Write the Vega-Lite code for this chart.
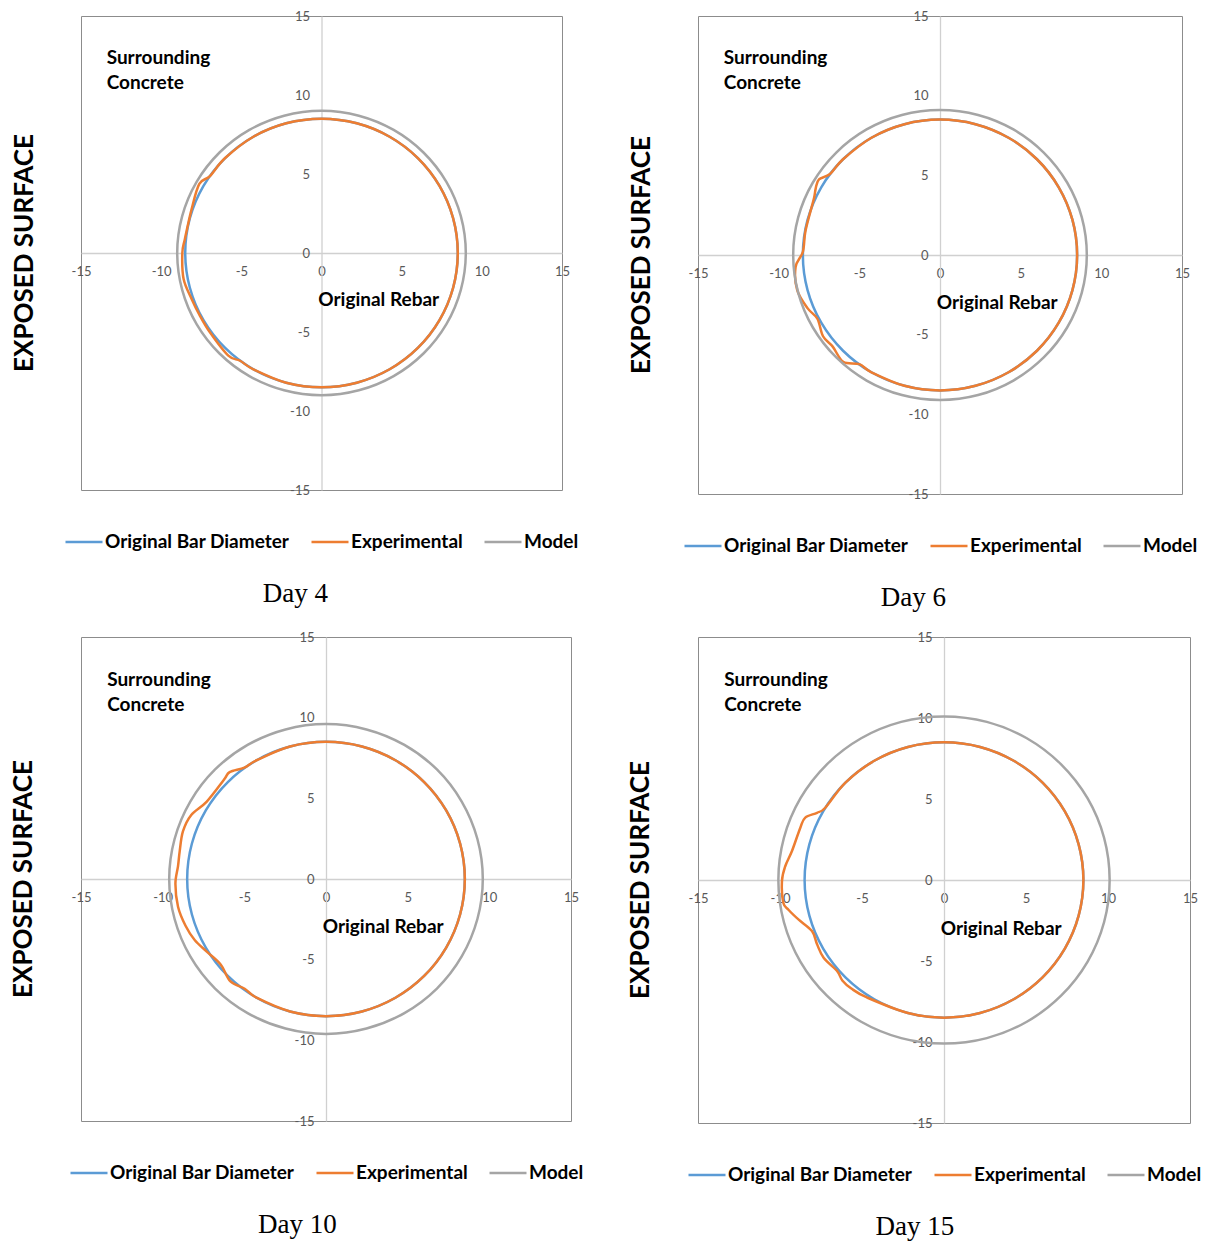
{
"$schema": "https://vega.github.io/schema/vega-lite/v6.json",
"padding": {"left": 10, "top": 9, "right": 3, "bottom": 0},
"datasets": {
"bar": [{"i":0,"x":8.5,"y":0},{"i":1,"x":8.21,"y":2.2},{"i":2,"x":7.36,"y":4.25},{"i":3,"x":6.01,"y":6.01},{"i":4,"x":4.25,"y":7.36},{"i":5,"x":2.2,"y":8.21},{"i":6,"x":0,"y":8.5},{"i":7,"x":-2.2,"y":8.21},{"i":8,"x":-4.25,"y":7.36},{"i":9,"x":-6.01,"y":6.01},{"i":10,"x":-7.36,"y":4.25},{"i":11,"x":-8.21,"y":2.2},{"i":12,"x":-8.5,"y":0},{"i":13,"x":-8.21,"y":-2.2},{"i":14,"x":-7.36,"y":-4.25},{"i":15,"x":-6.01,"y":-6.01},{"i":16,"x":-4.25,"y":-7.36},{"i":17,"x":-2.2,"y":-8.21},{"i":18,"x":0,"y":-8.5},{"i":19,"x":2.2,"y":-8.21},{"i":20,"x":4.25,"y":-7.36},{"i":21,"x":6.01,"y":-6.01},{"i":22,"x":7.36,"y":-4.25},{"i":23,"x":8.21,"y":-2.2}],
"m4": [{"i":0,"x":9,"y":0},{"i":1,"x":8.69,"y":2.33},{"i":2,"x":7.79,"y":4.5},{"i":3,"x":6.36,"y":6.36},{"i":4,"x":4.5,"y":7.79},{"i":5,"x":2.33,"y":8.69},{"i":6,"x":0,"y":9},{"i":7,"x":-2.33,"y":8.69},{"i":8,"x":-4.5,"y":7.79},{"i":9,"x":-6.36,"y":6.36},{"i":10,"x":-7.79,"y":4.5},{"i":11,"x":-8.69,"y":2.33},{"i":12,"x":-9,"y":0},{"i":13,"x":-8.69,"y":-2.33},{"i":14,"x":-7.79,"y":-4.5},{"i":15,"x":-6.36,"y":-6.36},{"i":16,"x":-4.5,"y":-7.79},{"i":17,"x":-2.33,"y":-8.69},{"i":18,"x":0,"y":-9},{"i":19,"x":2.33,"y":-8.69},{"i":20,"x":4.5,"y":-7.79},{"i":21,"x":6.36,"y":-6.36},{"i":22,"x":7.79,"y":-4.5},{"i":23,"x":8.69,"y":-2.33}],
"m6": [{"i":0,"x":9.1,"y":0},{"i":1,"x":8.79,"y":2.36},{"i":2,"x":7.88,"y":4.55},{"i":3,"x":6.43,"y":6.43},{"i":4,"x":4.55,"y":7.88},{"i":5,"x":2.36,"y":8.79},{"i":6,"x":0,"y":9.1},{"i":7,"x":-2.36,"y":8.79},{"i":8,"x":-4.55,"y":7.88},{"i":9,"x":-6.43,"y":6.43},{"i":10,"x":-7.88,"y":4.55},{"i":11,"x":-8.79,"y":2.36},{"i":12,"x":-9.1,"y":0},{"i":13,"x":-8.79,"y":-2.36},{"i":14,"x":-7.88,"y":-4.55},{"i":15,"x":-6.43,"y":-6.43},{"i":16,"x":-4.55,"y":-7.88},{"i":17,"x":-2.36,"y":-8.79},{"i":18,"x":0,"y":-9.1},{"i":19,"x":2.36,"y":-8.79},{"i":20,"x":4.55,"y":-7.88},{"i":21,"x":6.43,"y":-6.43},{"i":22,"x":7.88,"y":-4.55},{"i":23,"x":8.79,"y":-2.36}],
"m10": [{"i":0,"x":9.6,"y":0},{"i":1,"x":9.27,"y":2.48},{"i":2,"x":8.31,"y":4.8},{"i":3,"x":6.79,"y":6.79},{"i":4,"x":4.8,"y":8.31},{"i":5,"x":2.48,"y":9.27},{"i":6,"x":0,"y":9.6},{"i":7,"x":-2.48,"y":9.27},{"i":8,"x":-4.8,"y":8.31},{"i":9,"x":-6.79,"y":6.79},{"i":10,"x":-8.31,"y":4.8},{"i":11,"x":-9.27,"y":2.48},{"i":12,"x":-9.6,"y":0},{"i":13,"x":-9.27,"y":-2.48},{"i":14,"x":-8.31,"y":-4.8},{"i":15,"x":-6.79,"y":-6.79},{"i":16,"x":-4.8,"y":-8.31},{"i":17,"x":-2.48,"y":-9.27},{"i":18,"x":0,"y":-9.6},{"i":19,"x":2.48,"y":-9.27},{"i":20,"x":4.8,"y":-8.31},{"i":21,"x":6.79,"y":-6.79},{"i":22,"x":8.31,"y":-4.8},{"i":23,"x":9.27,"y":-2.48}],
"m15": [{"i":0,"x":10.1,"y":0},{"i":1,"x":9.76,"y":2.61},{"i":2,"x":8.75,"y":5.05},{"i":3,"x":7.14,"y":7.14},{"i":4,"x":5.05,"y":8.75},{"i":5,"x":2.61,"y":9.76},{"i":6,"x":0,"y":10.1},{"i":7,"x":-2.61,"y":9.76},{"i":8,"x":-5.05,"y":8.75},{"i":9,"x":-7.14,"y":7.14},{"i":10,"x":-8.75,"y":5.05},{"i":11,"x":-9.76,"y":2.61},{"i":12,"x":-10.1,"y":0},{"i":13,"x":-9.76,"y":-2.61},{"i":14,"x":-8.75,"y":-5.05},{"i":15,"x":-7.14,"y":-7.14},{"i":16,"x":-5.05,"y":-8.75},{"i":17,"x":-2.61,"y":-9.76},{"i":18,"x":0,"y":-10.1},{"i":19,"x":2.61,"y":-9.76},{"i":20,"x":5.05,"y":-8.75},{"i":21,"x":7.14,"y":-7.14},{"i":22,"x":8.75,"y":-5.05},{"i":23,"x":9.76,"y":-2.61}],
"e4": [{"i":0,"x":8.5,"y":0},{"i":1,"x":8.21,"y":2.2},{"i":2,"x":7.36,"y":4.25},{"i":3,"x":6.01,"y":6.01},{"i":4,"x":4.25,"y":7.36},{"i":5,"x":2.2,"y":8.21},{"i":6,"x":0,"y":8.5},{"i":7,"x":-2.2,"y":8.21},{"i":8,"x":-4.25,"y":7.36},{"i":9,"x":-6.01,"y":6.01},{"i":10,"x":-6.96,"y":4.87},{"i":11,"x":-7.62,"y":4.37},{"i":12,"x":-8.1,"y":2.78},{"i":13,"x":-8.52,"y":0.89},{"i":14,"x":-8.68,"y":0},{"i":15,"x":-8.6,"y":-1.65},{"i":16,"x":-8.1,"y":-2.91},{"i":17,"x":-7.62,"y":-3.9},{"i":18,"x":-6.96,"y":-5.02},{"i":19,"x":-5.81,"y":-6.5},{"i":20,"x":-5.08,"y":-6.82},{"i":21,"x":-4.25,"y":-7.36},{"i":22,"x":-2.2,"y":-8.21},{"i":23,"x":0,"y":-8.5},{"i":24,"x":2.2,"y":-8.21},{"i":25,"x":4.25,"y":-7.36},{"i":26,"x":6.01,"y":-6.01},{"i":27,"x":7.36,"y":-4.25},{"i":28,"x":8.21,"y":-2.2}],
"e6": [{"i":0,"x":8.5,"y":0},{"i":1,"x":8.21,"y":2.2},{"i":2,"x":7.36,"y":4.25},{"i":3,"x":6.01,"y":6.01},{"i":4,"x":4.25,"y":7.36},{"i":5,"x":2.2,"y":8.21},{"i":6,"x":0,"y":8.5},{"i":7,"x":-2.2,"y":8.21},{"i":8,"x":-4.25,"y":7.36},{"i":9,"x":-6.01,"y":6.01},{"i":10,"x":-6.82,"y":5.08},{"i":11,"x":-7.5,"y":4.75},{"i":12,"x":-7.7,"y":4.2},{"i":13,"x":-7.8,"y":3.6},{"i":14,"x":-8.0,"y":2.85},{"i":15,"x":-8.35,"y":1.45},{"i":16,"x":-8.5,"y":0.2},{"i":17,"x":-8.95,"y":-0.75},{"i":18,"x":-8.85,"y":-2.2},{"i":19,"x":-8.2,"y":-3.35},{"i":20,"x":-7.6,"y":-4.0},{"i":21,"x":-7.25,"y":-5.1},{"i":22,"x":-6.65,"y":-5.75},{"i":23,"x":-6.0,"y":-6.7},{"i":24,"x":-5.0,"y":-6.85},{"i":25,"x":-4.25,"y":-7.36},{"i":26,"x":-2.2,"y":-8.21},{"i":27,"x":0,"y":-8.5},{"i":28,"x":2.2,"y":-8.21},{"i":29,"x":4.25,"y":-7.36},{"i":30,"x":6.01,"y":-6.01},{"i":31,"x":7.36,"y":-4.25},{"i":32,"x":8.21,"y":-2.2}],
"e10": [{"i":0,"x":8.5,"y":0},{"i":1,"x":8.21,"y":2.2},{"i":2,"x":7.36,"y":4.25},{"i":3,"x":6.01,"y":6.01},{"i":4,"x":4.25,"y":7.36},{"i":5,"x":2.2,"y":8.21},{"i":6,"x":0,"y":8.5},{"i":7,"x":-2.2,"y":8.21},{"i":8,"x":-4.25,"y":7.36},{"i":9,"x":-5.0,"y":6.9},{"i":10,"x":-5.9,"y":6.62},{"i":11,"x":-6.25,"y":6.15},{"i":12,"x":-7.3,"y":4.8},{"i":13,"x":-8.25,"y":3.97},{"i":14,"x":-8.76,"y":2.95},{"i":15,"x":-8.96,"y":1.7},{"i":16,"x":-9.06,"y":0.8},{"i":17,"x":-9.22,"y":-0.3},{"i":18,"x":-9.06,"y":-1.72},{"i":19,"x":-8.6,"y":-2.9},{"i":20,"x":-8.04,"y":-3.78},{"i":21,"x":-7.3,"y":-4.5},{"i":22,"x":-6.45,"y":-5.3},{"i":23,"x":-5.85,"y":-6.35},{"i":24,"x":-4.98,"y":-6.8},{"i":25,"x":-4.25,"y":-7.36},{"i":26,"x":-2.2,"y":-8.21},{"i":27,"x":0,"y":-8.5},{"i":28,"x":2.2,"y":-8.21},{"i":29,"x":4.25,"y":-7.36},{"i":30,"x":6.01,"y":-6.01},{"i":31,"x":7.36,"y":-4.25},{"i":32,"x":8.21,"y":-2.2}],
"e15": [{"i":0,"x":8.5,"y":0},{"i":1,"x":8.21,"y":2.2},{"i":2,"x":7.36,"y":4.25},{"i":3,"x":6.01,"y":6.01},{"i":4,"x":4.25,"y":7.36},{"i":5,"x":2.2,"y":8.21},{"i":6,"x":0,"y":8.5},{"i":7,"x":-2.2,"y":8.21},{"i":8,"x":-4.25,"y":7.36},{"i":9,"x":-6.01,"y":6.01},{"i":10,"x":-7.24,"y":4.46},{"i":11,"x":-7.74,"y":4.15},{"i":12,"x":-8.46,"y":3.85},{"i":13,"x":-8.76,"y":3.23},{"i":14,"x":-9.27,"y":1.79},{"i":15,"x":-9.68,"y":0.85},{"i":16,"x":-9.88,"y":-0.06},{"i":17,"x":-9.8,"y":-1.4},{"i":18,"x":-9.47,"y":-1.85},{"i":19,"x":-8.86,"y":-2.45},{"i":20,"x":-8.05,"y":-3.15},{"i":21,"x":-7.74,"y":-3.97},{"i":22,"x":-7.34,"y":-4.8},{"i":23,"x":-6.52,"y":-5.62},{"i":24,"x":-6.2,"y":-6.2},{"i":25,"x":-5.65,"y":-6.7},{"i":26,"x":-4.7,"y":-7.25},{"i":27,"x":-2.2,"y":-8.21},{"i":28,"x":0,"y":-8.5},{"i":29,"x":2.2,"y":-8.21},{"i":30,"x":4.25,"y":-7.36},{"i":31,"x":6.01,"y":-6.01},{"i":32,"x":7.36,"y":-4.25},{"i":33,"x":8.21,"y":-2.2}]
},
"columns": 2,
"spacing": {"row": 18, "column": 42},
"resolve": {"scale": {"x": "independent", "y": "independent", "color": "independent"}, "legend": {"color": "independent"}},
"concat": [
{
"width": 481, "height": 474,
"title": "Day 4",
"layer": [
{"encoding": {
"x": {"field": "x", "type": "quantitative", "scale": {"domain": [-15, 15]}, "axis": {"values": [-15,-10,-5,0,5,10,15], "offset": -237, "title": null}},
"y": {"field": "y", "type": "quantitative", "scale": {"domain": [-15, 15]}, "axis": {"values": [-15,-10,-5,0,5,10,15], "offset": -240.5, "title": null}},
"order": {"field": "i"}
},
"layer": [
{"data": {"name": "bar"}, "mark": {"type": "line", "interpolate": "cardinal-closed"}, "encoding": {"color": {"datum": "Original Bar Diameter", "type": "nominal", "scale": {"domain": ["Original Bar Diameter", "Experimental", "Model"], "range": ["#5b9bd5", "#ed7d31", "#a5a5a5"]}, "legend": {"title": null}}}},
{"data": {"name": "e4"}, "mark": {"type": "line", "interpolate": "cardinal-closed"}, "encoding": {"color": {"datum": "Experimental", "type": "nominal"}}},
{"data": {"name": "m4"}, "mark": {"type": "line", "interpolate": "cardinal-closed"}, "encoding": {"color": {"datum": "Model", "type": "nominal"}}}
]},
{"data": {"values": [{}]}, "mark": {"type": "text", "align": "left", "baseline": "middle", "lineHeight": 25}, "encoding": {"x": {"datum": -13.4, "scale": {"domain": [-15, 15]}}, "y": {"datum": 12.35, "scale": {"domain": [-15, 15]}}, "text": {"value": ["Surrounding", "Concrete"]}}},
{"data": {"values": [{}]}, "mark": {"type": "text", "align": "left", "baseline": "middle"}, "encoding": {"x": {"datum": -0.2, "scale": {"domain": [-15, 15]}}, "y": {"datum": -3.0, "scale": {"domain": [-15, 15]}}, "text": {"value": "Original Rebar"}}},
{"data": {"values": [{}]}, "mark": {"type": "text", "align": "center", "baseline": "middle", "angle": 270, "fontSize": 26}, "encoding": {"x": {"datum": -18.5, "scale": {"domain": [-15, 15]}}, "y": {"datum": 0, "scale": {"domain": [-15, 15]}}, "text": {"value": "EXPOSED SURFACE"}}}
]
},
{
"width": 484, "height": 478,
"title": "Day 6",
"layer": [
{"encoding": {
"x": {"field": "x", "type": "quantitative", "scale": {"domain": [-15, 15]}, "axis": {"values": [-15,-10,-5,0,5,10,15], "offset": -239, "title": null}},
"y": {"field": "y", "type": "quantitative", "scale": {"domain": [-15, 15]}, "axis": {"values": [-15,-10,-5,0,5,10,15], "offset": -242, "title": null}},
"order": {"field": "i"}
},
"layer": [
{"data": {"name": "bar"}, "mark": {"type": "line", "interpolate": "cardinal-closed"}, "encoding": {"color": {"datum": "Original Bar Diameter", "type": "nominal", "scale": {"domain": ["Original Bar Diameter", "Experimental", "Model"], "range": ["#5b9bd5", "#ed7d31", "#a5a5a5"]}, "legend": {"title": null}}}},
{"data": {"name": "e6"}, "mark": {"type": "line", "interpolate": "cardinal-closed"}, "encoding": {"color": {"datum": "Experimental", "type": "nominal"}}},
{"data": {"name": "m6"}, "mark": {"type": "line", "interpolate": "cardinal-closed"}, "encoding": {"color": {"datum": "Model", "type": "nominal"}}}
]},
{"data": {"values": [{}]}, "mark": {"type": "text", "align": "left", "baseline": "middle", "lineHeight": 25}, "encoding": {"x": {"datum": -13.4, "scale": {"domain": [-15, 15]}}, "y": {"datum": 12.35, "scale": {"domain": [-15, 15]}}, "text": {"value": ["Surrounding", "Concrete"]}}},
{"data": {"values": [{}]}, "mark": {"type": "text", "align": "left", "baseline": "middle"}, "encoding": {"x": {"datum": -0.2, "scale": {"domain": [-15, 15]}}, "y": {"datum": -3.0, "scale": {"domain": [-15, 15]}}, "text": {"value": "Original Rebar"}}},
{"data": {"values": [{}]}, "mark": {"type": "text", "align": "center", "baseline": "middle", "angle": 270, "fontSize": 26}, "encoding": {"x": {"datum": -18.5, "scale": {"domain": [-15, 15]}}, "y": {"datum": 0, "scale": {"domain": [-15, 15]}}, "text": {"value": "EXPOSED SURFACE"}}}
]
},
{
"width": 490, "height": 484,
"title": "Day 10",
"layer": [
{"encoding": {
"x": {"field": "x", "type": "quantitative", "scale": {"domain": [-15, 15]}, "axis": {"values": [-15,-10,-5,0,5,10,15], "offset": -242, "title": null}},
"y": {"field": "y", "type": "quantitative", "scale": {"domain": [-15, 15]}, "axis": {"values": [-15,-10,-5,0,5,10,15], "offset": -245, "title": null}},
"order": {"field": "i"}
},
"layer": [
{"data": {"name": "bar"}, "mark": {"type": "line", "interpolate": "cardinal-closed"}, "encoding": {"color": {"datum": "Original Bar Diameter", "type": "nominal", "scale": {"domain": ["Original Bar Diameter", "Experimental", "Model"], "range": ["#5b9bd5", "#ed7d31", "#a5a5a5"]}, "legend": {"title": null}}}},
{"data": {"name": "e10"}, "mark": {"type": "line", "interpolate": "cardinal-closed"}, "encoding": {"color": {"datum": "Experimental", "type": "nominal"}}},
{"data": {"name": "m10"}, "mark": {"type": "line", "interpolate": "cardinal-closed"}, "encoding": {"color": {"datum": "Model", "type": "nominal"}}}
]},
{"data": {"values": [{}]}, "mark": {"type": "text", "align": "left", "baseline": "middle", "lineHeight": 25}, "encoding": {"x": {"datum": -13.4, "scale": {"domain": [-15, 15]}}, "y": {"datum": 12.35, "scale": {"domain": [-15, 15]}}, "text": {"value": ["Surrounding", "Concrete"]}}},
{"data": {"values": [{}]}, "mark": {"type": "text", "align": "left", "baseline": "middle"}, "encoding": {"x": {"datum": -0.2, "scale": {"domain": [-15, 15]}}, "y": {"datum": -3.0, "scale": {"domain": [-15, 15]}}, "text": {"value": "Original Rebar"}}},
{"data": {"values": [{}]}, "mark": {"type": "text", "align": "center", "baseline": "middle", "angle": 270, "fontSize": 26}, "encoding": {"x": {"datum": -18.5, "scale": {"domain": [-15, 15]}}, "y": {"datum": 0, "scale": {"domain": [-15, 15]}}, "text": {"value": "EXPOSED SURFACE"}}}
]
},
{
"width": 492, "height": 486,
"title": "Day 15",
"layer": [
{"encoding": {
"x": {"field": "x", "type": "quantitative", "scale": {"domain": [-15, 15]}, "axis": {"values": [-15,-10,-5,0,5,10,15], "offset": -243, "title": null}},
"y": {"field": "y", "type": "quantitative", "scale": {"domain": [-15, 15]}, "axis": {"values": [-15,-10,-5,0,5,10,15], "offset": -246, "title": null}},
"order": {"field": "i"}
},
"layer": [
{"data": {"name": "bar"}, "mark": {"type": "line", "interpolate": "cardinal-closed"}, "encoding": {"color": {"datum": "Original Bar Diameter", "type": "nominal", "scale": {"domain": ["Original Bar Diameter", "Experimental", "Model"], "range": ["#5b9bd5", "#ed7d31", "#a5a5a5"]}, "legend": {"title": null}}}},
{"data": {"name": "e15"}, "mark": {"type": "line", "interpolate": "cardinal-closed"}, "encoding": {"color": {"datum": "Experimental", "type": "nominal"}}},
{"data": {"name": "m15"}, "mark": {"type": "line", "interpolate": "cardinal-closed"}, "encoding": {"color": {"datum": "Model", "type": "nominal"}}}
]},
{"data": {"values": [{}]}, "mark": {"type": "text", "align": "left", "baseline": "middle", "lineHeight": 25}, "encoding": {"x": {"datum": -13.4, "scale": {"domain": [-15, 15]}}, "y": {"datum": 12.35, "scale": {"domain": [-15, 15]}}, "text": {"value": ["Surrounding", "Concrete"]}}},
{"data": {"values": [{}]}, "mark": {"type": "text", "align": "left", "baseline": "middle"}, "encoding": {"x": {"datum": -0.2, "scale": {"domain": [-15, 15]}}, "y": {"datum": -3.0, "scale": {"domain": [-15, 15]}}, "text": {"value": "Original Rebar"}}},
{"data": {"values": [{}]}, "mark": {"type": "text", "align": "center", "baseline": "middle", "angle": 270, "fontSize": 26}, "encoding": {"x": {"datum": -18.5, "scale": {"domain": [-15, 15]}}, "y": {"datum": 0, "scale": {"domain": [-15, 15]}}, "text": {"value": "EXPOSED SURFACE"}}}
]
}
],
"config": {
"font": "Lato",
"view": {"stroke": "#8c8c8c", "strokeWidth": 1},
"axis": {"grid": false, "ticks": false, "domainColor": "#d0d0d0", "domainWidth": 1.3, "labelColor": "#595959", "labelFont": "Lato", "labelFontSize": 13, "labelFlush": false, "labelPadding": 12, "labelExpr": "'' + datum.value"},
"line": {"strokeWidth": 2.5},
"text": {"font": "Lato", "fontWeight": "bold", "fontSize": 19, "color": "#000"},
"legend": {"orient": "bottom", "direction": "horizontal", "symbolType": "stroke", "symbolSize": 1369, "symbolStrokeWidth": 2.5, "labelFont": "Lato", "labelFontSize": 19, "labelFontWeight": "bold", "labelColor": "#000", "labelLimit": 400, "columnPadding": 16, "labelOffset": 1, "offset": 32, "layout": {"bottom": {"anchor": "middle"}}},
"title": {"orient": "bottom", "font": "Liberation Serif", "fontSize": 27, "fontWeight": "normal", "color": "#000", "offset": 29, "anchor": "middle", "frame": "bounds"}
}
}
